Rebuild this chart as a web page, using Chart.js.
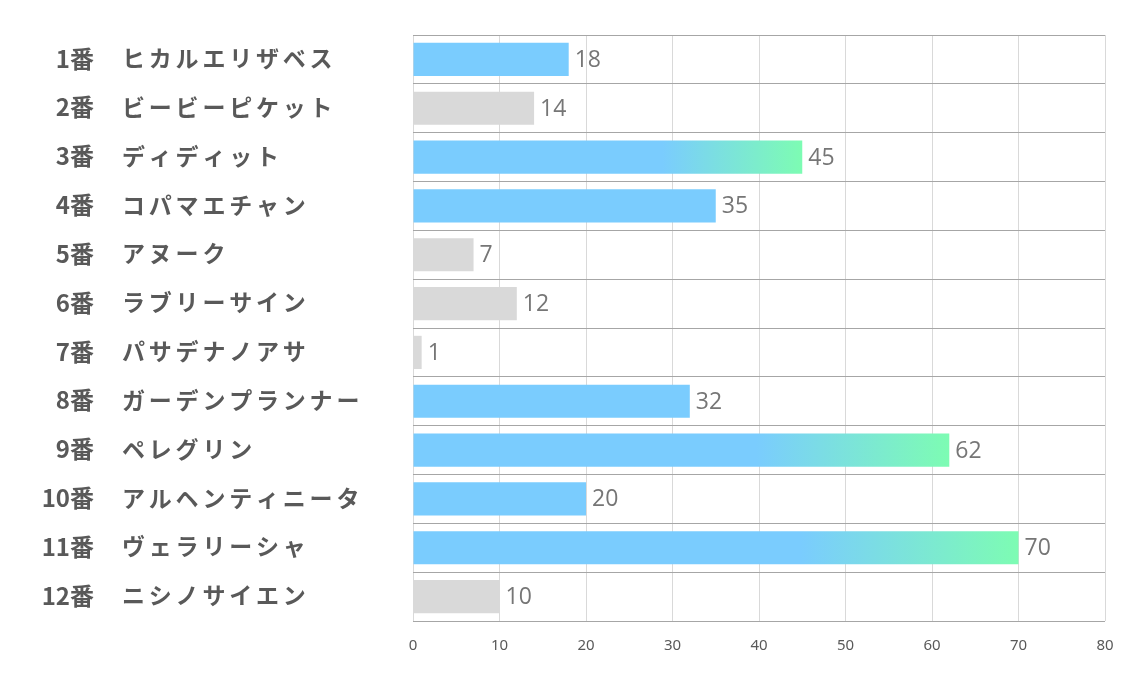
<!DOCTYPE html>
<html>
<head>
<meta charset="utf-8">
<script src="https://cdn.jsdelivr.net/npm/chart.js@4"></script>
<style>
  html, body { margin: 0; padding: 0; background: #fff; }
  #wrap { width: 1134px; height: 680px; }
</style>
</head>
<body>
<div id="wrap"><canvas id="c"></canvas></div>
<script>
// data
const horseNo = ['1番', '2番', '3番', '4番', '5番', '6番', '7番', '8番', '9番', '10番', '11番', '12番'];
const horseNames = ['ヒカルエリザベス', 'ビービーピケット', 'ディディット', 'コパマエチャン', 'アヌーク', 'ラブリーサイン',
  'パサデナノアサ', 'ガーデンプランナー', 'ペレグリン', 'アルヘンティニータ', 'ヴェラリーシャ', 'ニシノサイエン'];
const scores = [18, 14, 45, 35, 7, 12, 1, 32, 62, 20, 70, 10];
// 'top' = gradient bar, 'mid' = blue bar, 'low' = grey bar
const marks = ['mid', 'low', 'top', 'mid', 'low', 'low', 'low', 'mid', 'top', 'mid', 'top', 'low'];
const xTicks = [0, 10, 20, 30, 40, 50, 60, 70, 80];

const BLUE = '#7accfe';
const GREEN = '#7dfcb3';
const GREY = '#d9d9d9';

function barColor(ctx) {
  const chart = ctx.chart;
  const m = marks[ctx.dataIndex];
  if (m === 'low') return GREY;
  if (m === 'mid' || !chart.chartArea || !chart.scales.x) return BLUE;
  const x = chart.scales.x;
  const x0 = x.getPixelForValue(0);
  const x1 = x.getPixelForValue(scores[ctx.dataIndex]);
  const g = chart.ctx.createLinearGradient(x0, 0, x1, 0);
  g.addColorStop(0, BLUE);
  g.addColorStop(0.64, BLUE);
  g.addColorStop(1, GREEN);
  return g;
}

// left label columns: number right aligned, name left aligned
const nameLabels = {
  id: 'nameLabels',
  afterDraw(chart) {
    const c = chart.ctx;
    const y = chart.scales.y;
    c.save();
    c.fillStyle = '#595959';
    c.textBaseline = 'middle';
    horseNo.forEach((n, i) => {
      const py = y.getPixelForValue(i);
      c.font = 'bold 24px "Noto Sans CJK JP"';
      c.letterSpacing = '0px';
      c.textAlign = 'right';
      c.fillText(n, 94, py - 1);
      c.font = 'bold 23px "Noto Sans CJK JP"';
      c.textAlign = 'left';
      c.letterSpacing = '3.8px';
      c.fillText(horseNames[i], 122, py - 1);
    });
    c.restore();
  }
};

// value labels at bar ends
const valueLabels = {
  id: 'valueLabels',
  afterDatasetsDraw(chart) {
    const c = chart.ctx;
    const meta = chart.getDatasetMeta(0);
    c.save();
    c.font = '23px "Open Sans"';
    c.fillStyle = '#767676';
    c.textAlign = 'left';
    c.textBaseline = 'middle';
    meta.data.forEach((bar, i) => {
      c.fillText(String(scores[i]), bar.x + 6, bar.y + 1);
    });
    c.restore();
  }
};

new Chart(document.getElementById('c'), {
  type: 'bar',
  data: {
    labels: horseNo.map((n, i) => n + ' ' + horseNames[i]),
    datasets: [{
      data: scores,
      backgroundColor: barColor,
      borderWidth: 0,
      categoryPercentage: 1,
      barPercentage: 0.68
    }]
  },
  options: {
    indexAxis: 'y',
    responsive: true,
    maintainAspectRatio: false,
    animation: false,
    layout: { padding: { top: 35, right: 29, left: 0, bottom: 0 } },
    plugins: { legend: { display: false }, tooltip: { enabled: false } },
    scales: {
      x: {
        min: 0, max: 80,
        z: 1,
        afterBuildTicks: s => { s.ticks = xTicks.map(v => ({ value: v })); },
        afterFit: s => { s.height = 59; },
        grid: { color: 'rgba(0,0,0,0.15)', drawTicks: false },
        border: { display: false },
        ticks: { padding: 16, color: '#595959', font: { family: 'Noto Sans', size: 15 } }
      },
      y: {
        afterFit: s => { s.width = 413; },
        grid: { color: '#a6a6a6', drawTicks: false, offset: true },
        border: { display: false },
        ticks: { display: false }
      }
    }
  },
  plugins: [nameLabels, valueLabels]
});
</script>
</body>
</html>
